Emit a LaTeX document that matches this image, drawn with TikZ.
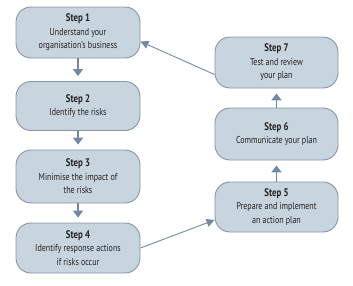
\documentclass[tikz,border=0pt]{standalone}
\usepackage{fontspec}
\setmainfont{PT Sans}[FakeStretch=0.8]
\usetikzlibrary{arrows.meta}
\definecolor{boxfill}{HTML}{C8D4DE}
\definecolor{boxline}{HTML}{8396A8}
\definecolor{arr}{HTML}{7189A2}
\definecolor{txt}{HTML}{222222}
\newcommand{\stitle}[1]{{\fontsize{11}{13.5}\selectfont\bfseries #1}}
\begin{document}
\begin{tikzpicture}[x=1pt,y=-1pt,
  stepbox/.style={draw=boxline, line width=0.9pt, fill=boxfill, rounded corners=15pt,
    minimum width=124pt, minimum height=51pt, inner sep=1pt, align=center,
    text=txt, font=\fontsize{10}{13.5}\selectfont},
  vflow/.style={draw=arr, line width=1.8pt, -{Triangle[width=10pt,length=7pt]}, shorten >=5pt},
  dflow/.style={draw=arr, line width=0.9pt, -{Triangle[width=8pt,length=8pt]}}]
\useasboundingbox (0,0) rectangle (353,285);
\node[stepbox] (s1) at (78,32.5) {\stitle{Step 1}\\Understand your\\organisation’s business};
\node[stepbox, minimum height=49pt] (s2) at (78,106) {\stitle{Step 2}\\Identify the risks};
\node[stepbox, minimum height=53pt] (s3) at (78,176.5) {\stitle{Step 3}\\Minimise the impact of\\the risks};
\node[stepbox, minimum height=50pt] (s4) at (78,248) {\stitle{Step 4}\\Identify response actions\\if risks occur};
\node[stepbox, minimum width=123pt, minimum height=50pt] (s5) at (276.5,207) {\stitle{Step 5}\\Prepare and implement\\an action plan};
\node[stepbox, minimum width=123pt, minimum height=52pt] (s6) at (276.5,134) {\stitle{Step 6}\\Communicate your plan};
\node[stepbox, minimum width=123pt, minimum height=51pt] (s7) at (276.5,62.5) {\stitle{Step 7}\\Test and review\\your plan};
\draw[vflow] (s1) -- (s2);
\draw[vflow] (s2) -- (s3);
\draw[vflow] (s3) -- (s4);
\draw[vflow] (s5) -- (s6);
\draw[vflow] (s6) -- (s7);
\draw[dflow] (s4.east) -- ([yshift=-13pt]s5.west);
\draw[dflow] ([yshift=-12pt]s7.west) -- ([yshift=-9pt]s1.east);
\end{tikzpicture}
\end{document}
